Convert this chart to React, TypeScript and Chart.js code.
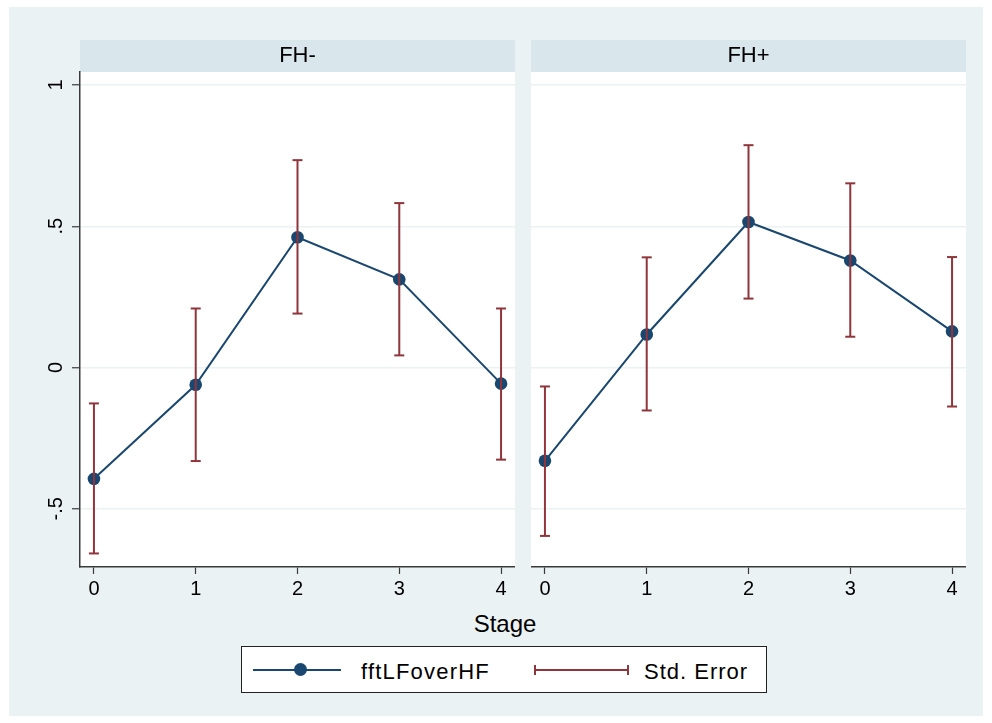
import React, { useEffect, useRef } from "react";
import { Chart, registerables } from "chart.js";

Chart.register(...registerables);

// ---- data ----
const stages = [0, 1, 2, 3, 4];
const yTickValues = [-0.5, 0, 0.5, 1];
const panelTitles = ["FH-", "FH+"];

const fhMinusMean = [-0.394, -0.061, 0.461, 0.312, -0.057];
const fhMinusLow = [-0.658, -0.331, 0.191, 0.043, -0.326];
const fhMinusHigh = [-0.127, 0.209, 0.734, 0.582, 0.209];

const fhPlusMean = [-0.33, 0.117, 0.515, 0.379, 0.128];
const fhPlusLow = [-0.596, -0.152, 0.244, 0.109, -0.138];
const fhPlusHigh = [-0.067, 0.39, 0.787, 0.652, 0.391];

const seriesLabel = "fftLFoverHF";
const errorLabel = "Std. Error";
const xTitle = "Stage";

// ---- style ----
const FONT = "'Liberation Sans', Arial, Helvetica, sans-serif";
const NAVY = "#1a476f";
const MAROON = "#90353b";
const BG = "#eaf2f3";
const STRIP = "#d9e6eb";
const AXIS = "#3a3a3a";

const Y_MIN = -0.706;
const Y_MAX = 1.046;
const X_MIN = -0.137;
const X_MAX = 4.137;

const fmtY = (v: number) => {
  if (v === 0) return "0";
  const s = String(Math.abs(v)).replace(/^0/, "");
  return (v < 0 ? "-" : "") + s;
};

const stripPlugin = {
  id: "strip",
  beforeDraw(chart: any) {
    const { ctx, chartArea } = chart;
    ctx.save();
    ctx.fillStyle = STRIP;
    ctx.fillRect(chartArea.left, 0, chartArea.right - chartArea.left, chartArea.top);
    ctx.fillStyle = "#ffffff";
    ctx.fillRect(chartArea.left, chartArea.top, chartArea.right - chartArea.left, chartArea.bottom - chartArea.top);
    ctx.restore();
  },
};

function Panel(props: {
  title: string;
  mean: number[];
  low: number[];
  high: number[];
  showY: boolean;
  left: number;
  width: number;
  yWidth: number;
}) {
  const ref = useRef<HTMLCanvasElement>(null);
  useEffect(() => {
    const { title, mean, low, high, showY, yWidth } = props;
    const errData: any[] = [];
    stages.forEach((s, i) => {
      errData.push({ x: s, y: low[i] });
      errData.push({ x: s, y: high[i] });
      errData.push({ x: s, y: null });
    });
    const meanData = stages.map((s, i) => ({ x: s, y: mean[i] }));
    const chart = new Chart(ref.current as HTMLCanvasElement, {
      type: "line",
      data: {
        datasets: [
          {
            label: errorLabel,
            data: errData,
            borderColor: MAROON,
            borderWidth: 2,
            pointStyle: "line",
            pointRadius: 5,
            pointBorderColor: MAROON,
            pointBorderWidth: 2,
            spanGaps: false,
            fill: false,
            tension: 0,
          },
          {
            label: seriesLabel,
            data: meanData,
            borderColor: NAVY,
            borderWidth: 2,
            pointRadius: 6.3,
            pointBackgroundColor: NAVY,
            pointBorderColor: NAVY,
            pointBorderWidth: 0,
            fill: false,
            tension: 0,
          },
        ],
      },
      options: {
        animation: false,
        responsive: false,
        events: [],
        layout: { padding: 0, autoPadding: false },
        plugins: {
          legend: { display: false },
          tooltip: { enabled: false },
          title: {
            display: true,
            text: title,
            fullSize: false,
            color: "#000",
            font: { family: FONT, size: 22, weight: "normal", lineHeight: 1 },
            padding: { top: 5, bottom: 5 },
          },
        },
        scales: {
          x: {
            type: "linear",
            min: X_MIN,
            max: X_MAX,
            afterBuildTicks: (s: any) => {
              s.ticks = stages.map((v) => ({ value: v }));
            },
            afterFit: (s: any) => {
              s.height = 43;
              s.paddingLeft = 0;
              s.paddingRight = 0;
            },
            grid: {
              drawOnChartArea: false,
              drawTicks: true,
              tickLength: 7,
              tickColor: AXIS,
              tickWidth: 1.2,
            },
            border: { display: true, color: AXIS, width: 1.5 },
            ticks: {
              color: "#000",
              font: { family: FONT, size: 20 },
              padding: 3,
              maxRotation: 0,
              minRotation: 0,
              callback: (v: any) => String(v),
            },
          },
          y: {
            type: "linear",
            min: Y_MIN,
            max: Y_MAX,
            afterBuildTicks: (s: any) => {
              s.ticks = yTickValues.map((v) => ({ value: v }));
            },
            afterFit: (s: any) => {
              s.width = yWidth;
              s.paddingTop = 0;
              s.paddingBottom = 0;
            },
            grid: {
              color: BG,
              lineWidth: 1.5,
              drawTicks: showY,
              tickLength: 8,
              tickColor: AXIS,
              tickWidth: 1.2,
            },
            border: { display: showY, color: AXIS, width: 1.5 },
            ticks: {
              display: showY,
              color: "#000",
              font: { family: FONT, size: 20 },
              padding: 4,
              minRotation: 90,
              maxRotation: 90,
              crossAlign: "center",
              callback: (v: any) => fmtY(Number(v)),
            },
          },
        },
      },
      plugins: [stripPlugin],
    } as any);
    return () => chart.destroy();
  }, []);
  return (
    <canvas
      ref={ref}
      width={props.width}
      height={570}
      style={{ position: "absolute", left: props.left, top: 40, width: props.width, height: 570 }}
    />
  );
}

export default function App() {
  return (
    <div
      style={{
        position: "absolute",
        left: 0,
        top: 0,
        width: 992,
        height: 723,
        background: "#ffffff",
        overflow: "hidden",
        fontFamily: FONT,
      }}
    >
      <div style={{ position: "absolute", left: 9, top: 7, width: 974, height: 709, background: BG }} />
      <Panel title={panelTitles[0]} mean={fhMinusMean} low={fhMinusLow} high={fhMinusHigh} showY={true} left={20} width={495} yWidth={60} />
      <Panel title={panelTitles[1]} mean={fhPlusMean} low={fhPlusLow} high={fhPlusHigh} showY={false} left={531} width={435} yWidth={0} />
      <div
        style={{
          position: "absolute",
          left: 405,
          top: 612,
          width: 200,
          textAlign: "center",
          fontSize: 24,
          lineHeight: "24px",
          color: "#000",
        }}
      >
        {xTitle}
      </div>
      <div
        style={{
          position: "absolute",
          left: 241,
          top: 646,
          width: 526,
          height: 47,
          boxSizing: "border-box",
          border: "1.5px solid #222",
          background: "#fff",
        }}
      >
        <div style={{ position: "absolute", left: 11, top: 22, width: 88, height: 2, background: NAVY }} />
        <div
          style={{
            position: "absolute",
            left: 52,
            top: 16,
            width: 13,
            height: 13,
            borderRadius: 7,
            background: NAVY,
          }}
        />
        <div
          style={{
            position: "absolute",
            left: 119,
            top: 14,
            fontSize: 22,
            lineHeight: "22px",
            letterSpacing: "1.2px",
            color: "#000",
            whiteSpace: "nowrap",
          }}
        >
          {seriesLabel}
        </div>
        <div style={{ position: "absolute", left: 292, top: 22, width: 95, height: 2, background: MAROON }} />
        <div style={{ position: "absolute", left: 292, top: 18, width: 2, height: 10, background: MAROON }} />
        <div style={{ position: "absolute", left: 385, top: 18, width: 2, height: 10, background: MAROON }} />
        <div
          style={{
            position: "absolute",
            left: 402,
            top: 14,
            fontSize: 22,
            lineHeight: "22px",
            letterSpacing: "1px",
            color: "#000",
            whiteSpace: "nowrap",
          }}
        >
          {errorLabel}
        </div>
      </div>
    </div>
  );
}
